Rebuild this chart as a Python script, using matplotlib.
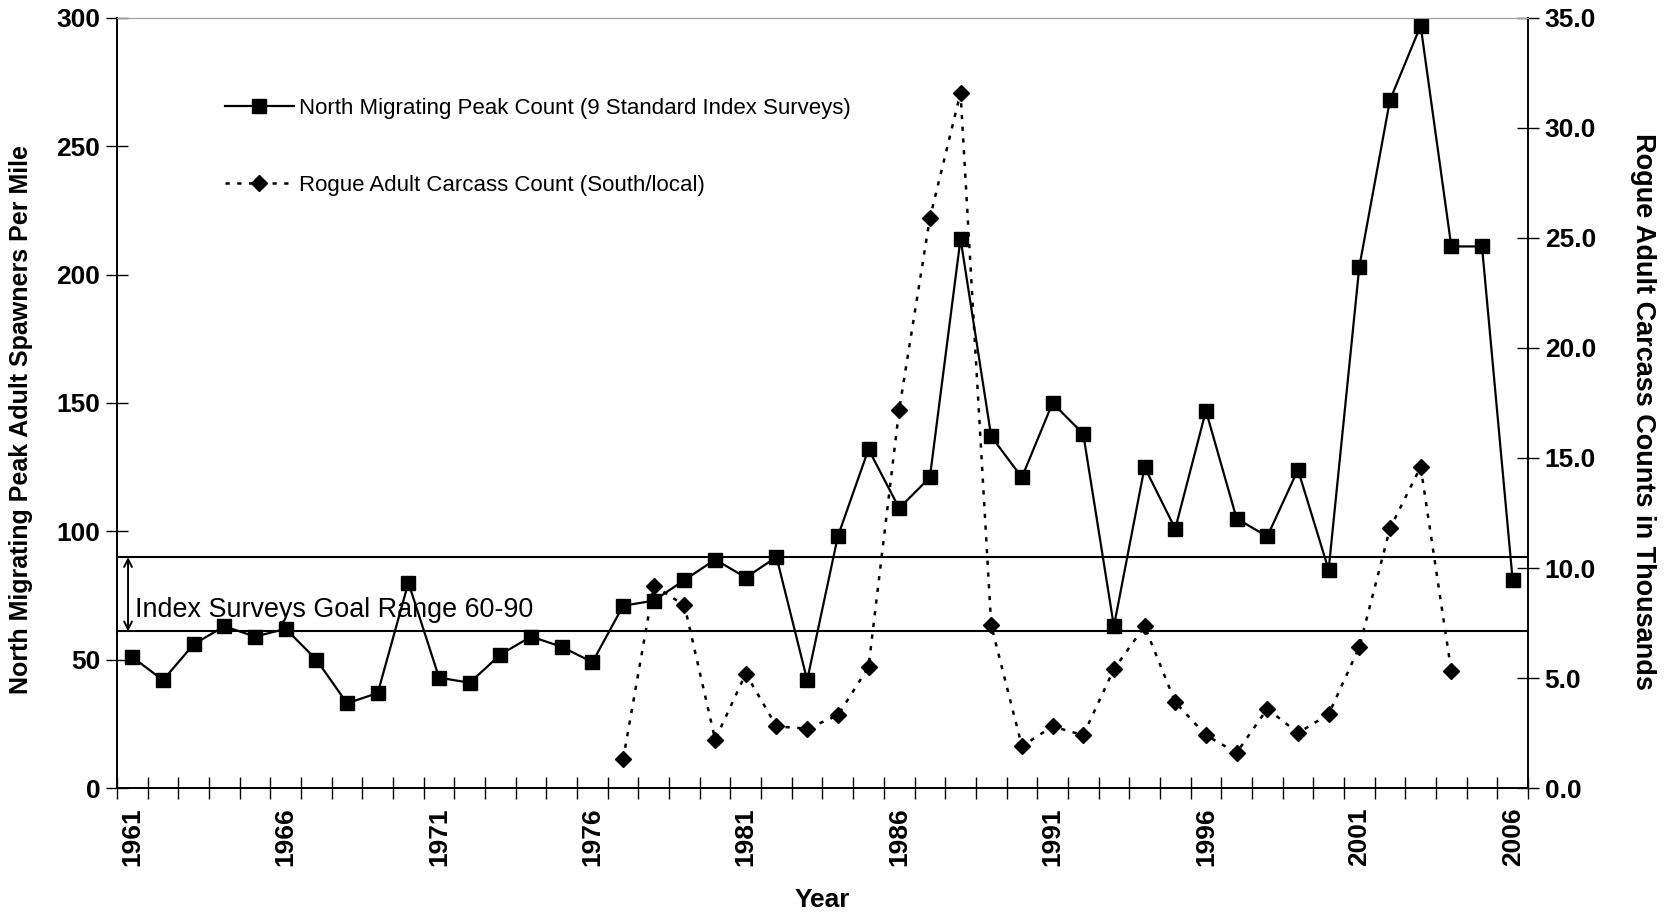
import numpy as np
import matplotlib
matplotlib.use("Agg")
import matplotlib.pyplot as plt

plt.rcParams['font.family'] = ['Liberation Sans', 'DejaVu Sans']

# Data
years = list(range(1961, 2007))
north_peak = [51, 42, 56, 63, 59, 62, 50, 33, 37, 80,
              43, 41, 52, 59, 55, 49, 71, 73, 81, 89,
              82, 90, 42, 98, 132, 109, 121, 214, 137, 121,
              150, 138, 63, 125, 101, 147, 105, 98, 124, 85,
              203, 268, 297, 211, 211, 81]
carcass_years = list(range(1977, 2005))
carcass_k = [1.3, 9.2, 8.3, 2.2, 5.2, 2.8, 2.7, 3.3, 5.5, 17.2,
             25.9, 31.6, 7.4, 1.9, 2.8, 2.4, 5.4, 7.35, 3.9, 2.4,
             1.6, 3.6, 2.5, 3.35, 6.4, 11.8, 14.6, 5.3]
goal_low, goal_high = 61, 90
year_labels = list(range(1961, 2007, 5))

fig = plt.figure(figsize=(16.67, 9.14), dpi=100)
ax = fig.add_axes([117/1667, 1 - 788/914, (1528 - 117)/1667, (788 - 18)/914])
ax2 = ax.twinx()

ax.axhline(goal_low, color='black', lw=1.5, zorder=1)
ax.axhline(goal_high, color='black', lw=1.5, zorder=1)

l1, = ax.plot(years, north_peak, color='black', lw=1.6, marker='s', ms=10,
              label='North Migrating Peak Count (9 Standard Index Surveys)', zorder=3)
l2, = ax2.plot(carcass_years, carcass_k, color='black', lw=1.8, ls=(0, (1.7, 3)),
               marker='D', ms=8, label='Rogue Adult Carcass Count (South/local)')

ax.set_xlim(1960.5, 2006.5)
ax.set_ylim(0, 300)
ax2.set_ylim(0, 35)

ax.set_yticks(range(0, 301, 50))
ax2.set_yticks(np.arange(0, 35.1, 5))
ax2.set_yticklabels([f"{v:.1f}" for v in np.arange(0, 35.1, 5)])
ax.set_xticks(year_labels)
ax.set_xticklabels([str(y) for y in year_labels], rotation=90)
ax.set_xticks(np.arange(1960.5, 2007, 1), minor=True)

ax.tick_params(axis='x', which='major', length=0, pad=14, labelsize=19)
ax.tick_params(axis='x', which='minor', direction='inout', length=16, width=1)
ax.tick_params(axis='y', direction='inout', length=16, width=1, labelsize=19, pad=4)
ax2.tick_params(axis='y', direction='inout', length=16, width=1, labelsize=19, pad=4)
for lab in ax.get_xticklabels() + ax.get_yticklabels() + ax2.get_yticklabels():
    lab.set_fontweight('bold')

for a in (ax, ax2):
    a.spines['top'].set_color('#a0a0a0')
    a.spines['left'].set_linewidth(1.2)
    a.spines['right'].set_linewidth(1.2)
    a.spines['bottom'].set_linewidth(1.2)

ax.set_xlabel('Year', fontsize=19, fontweight='bold')
ax.set_ylabel('North Migrating Peak Adult Spawners Per Mile', fontsize=18, fontweight='bold')
ax2.set_ylabel('Rogue Adult Carcass Counts in Thousands', fontsize=19.5, fontweight='bold',
               rotation=270)
ax.xaxis.set_label_coords(0.5, -0.13)
ax.yaxis.set_label_coords(-0.0595, 0.478)
ax2.yaxis.set_label_coords(1.0905, 0.489)

ax.annotate('', xy=(1960.86, goal_high), xytext=(1960.86, goal_low),
            arrowprops=dict(arrowstyle='<->', lw=1.4, color='black',
                            mutation_scale=14, shrinkA=0, shrinkB=0))
ax.text(1961.1, 69.5, 'Index Surveys Goal Range 60-90', fontsize=19.4, va='center', ha='left')

fig.legend(handles=[l1, l2], loc='upper left', bbox_to_anchor=(225/1667, 1 - 98/914),
           frameon=False, fontsize=16, handlelength=3.1, handletextpad=0.25,
           labelspacing=2.5, borderpad=0, borderaxespad=0)

fig.savefig('out.png', dpi=100)
